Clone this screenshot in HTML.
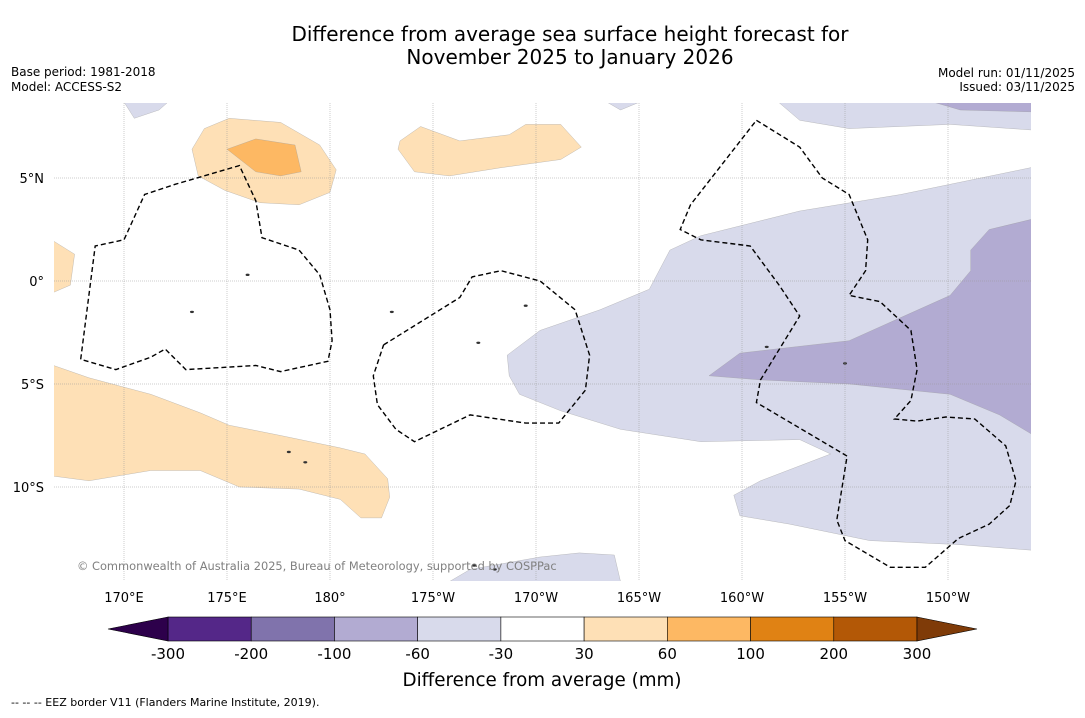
<!DOCTYPE html>
<html><head><meta charset="utf-8"><style>
body{margin:0;background:#fff;font-family:"Liberation Sans","DejaVu Sans",sans-serif;}
svg text{font-family:"DejaVu Sans","Liberation Sans",sans-serif;}
</style></head><body>
<svg id="s" width="1085" height="713" xmlns="http://www.w3.org/2000/svg">
<rect width="1085" height="713" fill="#fff"/>
<text x="570" y="41" font-size="20" text-anchor="middle">Difference from average sea surface height forecast for</text>
<text x="570" y="64" font-size="20" text-anchor="middle">November 2025 to January 2026</text>
<text x="11" y="76" font-size="12">Base period: 1981-2018</text>
<text x="11" y="91" font-size="12">Model: ACCESS-S2</text>
<text x="1075" y="77" font-size="12" text-anchor="end">Model run: 01/11/2025</text>
<text x="1075" y="91" font-size="12" text-anchor="end">Issued: 03/11/2025</text>
<defs><clipPath id="mc"><rect x="54" y="103" width="977" height="478"/></clipPath></defs>
<g id="map" clip-path="url(#mc)"></g>
<g id="grid"></g>
<g id="eez" clip-path="url(#mc)"></g>
<text x="77" y="570" font-size="11.4" fill="#808080">© Commonwealth of Australia 2025, Bureau of Meteorology, supported by COSPPac</text>
<g id="axes"></g>
<g id="cbar"></g>
<text x="542" y="686" font-size="18.3" text-anchor="middle">Difference from average (mm)</text>
<text x="11" y="706" font-size="11">-- -- -- EEZ border V11 (Flanders Marine Institute, 2019).</text>
</svg>
<script>
const cbBounds=[-300,-200,-100,-60,-30,30,60,100,200,300];
const cbColors=["#542788","#8073ac","#b2abd2","#d8daeb","#ffffff","#fee0b6","#fdb863","#e08214","#b35806"];
const cbExt=["#2d004b","#7f3b08"];
const lonTicks=[170,175,180,185,190,195,200,205,210];
const lonLabels=["170°E","175°E","180°","175°W","170°W","165°W","160°W","155°W","150°W"];
const latTicks=[5,0,-5,-10];
const latLabels=["5°N","0°","5°S","10°S"];
const regionLight=[[188.6,-3.6],[190.2,-2.4],[193.1,-1.4],[195.5,-0.4],[196.5,1.5],[198.0,2.2],[202.8,3.4],[207.7,4.2],[214.5,5.6],[214.5,-13.1],[210.6,-12.8],[206.2,-12.6],[202.3,-11.8],[199.9,-11.4],[199.6,-10.4],[200.9,-9.7],[204.3,-8.4],[202.8,-7.7],[198.0,-7.8],[194.1,-7.2],[191.2,-6.3],[189.2,-5.5],[188.7,-4.6]];
const regionDark=[[198.4,-4.6],[199.9,-3.5],[205.2,-2.9],[210.1,-0.7],[211.1,0.5],[211.1,1.5],[212.0,2.5],[214.5,3.1],[214.5,-7.7],[212.5,-6.5],[210.1,-5.5],[205.2,-5.0],[200.9,-4.8]];
const topLightR=[[201.4,9],[202.8,7.8],[205.2,7.4],[210.1,7.6],[214.5,7.3],[214.5,9]];
const topDarkR=[[208.2,9],[210.6,8.3],[214.5,8.2],[214.5,9]];
const topLightL=[[169.8,9],[170.5,7.9],[171.7,8.3],[172.5,9]];
const topLightM=[[192.9,9],[194.1,8.3],[195.8,9]];
const botLight=[[185.1,-15],[186.8,-14.0],[190.2,-13.4],[192.1,-13.2],[193.8,-13.3],[194.2,-15]];
const orTop=[[173.3,6.4],[173.9,7.4],[175.1,7.9],[177.6,7.7],[179.5,6.6],[180.3,5.4],[180.0,4.3],[178.5,3.7],[176.6,3.8],[174.9,4.4],[173.6,5.1]];
const orInner=[[175.0,6.4],[176.4,6.9],[178.3,6.6],[178.6,5.3],[177.6,5.1],[176.4,5.3]];
const orMid=[[183.4,6.8],[184.4,7.5],[186.3,6.8],[188.7,7.1],[189.5,7.6],[191.2,7.6],[192.2,6.5],[191.2,5.9],[188.3,5.5],[185.8,5.1],[184.1,5.3],[183.3,6.4]];
const orLeft=[[166,2.3],[167.6,1.3],[167.4,-0.2],[166,-0.8]];
const orBot=[[166,-3.9],[168.3,-4.7],[171.3,-5.5],[173.7,-6.4],[175.1,-7.0],[177.6,-7.5],[180.5,-8.1],[181.7,-8.4],[182.8,-9.6],[182.9,-10.5],[182.5,-11.5],[181.5,-11.5],[180.5,-10.6],[178.5,-10.1],[175.6,-10.0],[173.7,-9.2],[171.3,-9.2],[168.3,-9.7],[166,-9.4]];
const eezA=[[167.9,-3.8],[168.6,1.7],[170.0,2.0],[171.0,4.2],[172.5,4.7],[175.6,5.6],[176.4,3.9],[176.7,2.1],[178.5,1.5],[179.5,0.3],[180.0,-1.4],[180.1,-2.9],[179.9,-3.9],[177.6,-4.4],[176.4,-4.1],[173.0,-4.3],[172.0,-3.3],[171.3,-3.7],[169.6,-4.3],[167.9,-3.8]];
const eezB=[[182.6,-3.1],[186.3,-0.8],[186.9,0.2],[188.3,0.5],[190.2,0.0],[191.9,-1.4],[192.6,-3.6],[192.4,-5.3],[191.1,-6.9],[189.5,-6.9],[186.8,-6.5],[184.1,-7.8],[183.2,-7.2],[182.3,-6.0],[182.1,-4.6],[182.6,-3.1]];
const eezC=[[200.7,7.8],[202.8,6.5],[203.9,5.0],[205.2,4.2],[206.1,2.0],[206.0,0.5],[205.2,-0.7],[206.7,-1.0],[208.2,-2.4],[208.5,-4.3],[208.2,-5.8],[207.4,-6.7],[208.5,-6.8],[209.9,-6.6],[211.3,-6.7],[212.8,-8.0],[213.3,-9.7],[213.0,-10.9],[212.0,-11.8],[210.5,-12.5],[208.9,-13.9],[207.2,-13.9],[205.0,-12.6],[204.6,-11.6],[205.1,-8.5],[200.7,-5.9],[200.9,-4.8],[202.8,-1.7],[201.8,-0.2],[200.4,1.7],[198.0,2.0],[197.0,2.5],[197.5,3.7],[200.7,7.8]];
const islands=[[178.0,-8.3],[178.8,-8.8],[187.2,-3.0],[189.5,-1.2],[176.0,0.3],[183.0,-1.5],[205.0,-4.0],[201.2,-3.2],[173.3,-1.5],[187.0,-13.8],[188.0,-14.0],[166.3,-11.6]];

const NS="http://www.w3.org/2000/svg";
const X=l=>124+(l-170)*20.6, Y=t=>281-t*20.6;
function mk(tag,attrs,parent){const e=document.createElementNS(NS,tag);for(const k in attrs)e.setAttribute(k,attrs[k]);parent.appendChild(e);return e;}
const pts=a=>a.map(p=>X(p[0]).toFixed(1)+","+Y(p[1]).toFixed(1)).join(" ");
const map=document.getElementById('map');
function poly(a,fill,name){const e=mk('polygon',{points:pts(a),fill:fill,stroke:"#999",'stroke-width':0.3},map);

}
poly(regionLight,cbColors[3],'region-minus60-minus30');
poly(regionDark,cbColors[2],'region-minus100-minus60');
poly(topLightR,cbColors[3],'region-top-right-light');
poly(topDarkR,cbColors[2],'region-top-right-dark');
poly(topLightL,cbColors[3],'region-top-left-light');
poly(topLightM,cbColors[3],'region-top-middle-light');
poly(botLight,cbColors[3],'region-bottom-light');
poly(orTop,cbColors[5],'region-30-60-north');
poly(orInner,cbColors[6],'region-60-100-north');
poly(orMid,cbColors[5],'region-30-60-middle');
poly(orLeft,cbColors[5],'region-30-60-left');
poly(orBot,cbColors[5],'region-30-60-south');
islands.forEach(p=>{const e=mk('ellipse',{cx:X(p[0]),cy:Y(p[1]),rx:2,ry:1.2,fill:"#333"},map);

});
const grid=document.getElementById('grid'),axes=document.getElementById('axes');
lonTicks.forEach((l,i)=>{const g=mk('line',{x1:X(l),x2:X(l),y1:103,y2:581,stroke:"#999",'stroke-width':0.5,'stroke-dasharray':"1,1"},grid);


const t=mk('text',{x:X(l),y:602,'font-size':13,'text-anchor':'middle'},axes);t.textContent=lonLabels[i];

});
latTicks.forEach((l,i)=>{const g=mk('line',{x1:54,x2:1031,y1:Y(l),y2:Y(l),stroke:"#999",'stroke-width':0.5,'stroke-dasharray':"1,1"},grid);


const t=mk('text',{x:44,y:Y(l)+5,'font-size':13,'text-anchor':'end'},axes);t.textContent=latLabels[i];

});
const eez=document.getElementById('eez');
[eezA,eezB,eezC].forEach(a=>{const e=mk('polyline',{points:pts(a),fill:"none",stroke:"#000",'stroke-width':1.4,'stroke-dasharray':"5,3"},eez);

});
const cb=document.getElementById('cbar');const x0=168,x1=917,cy0=617,ch=24,n=cbColors.length,w=(x1-x0)/n;
cbColors.forEach((c,i)=>{const r=mk('rect',{x:x0+i*w,y:cy0,width:w,height:ch,fill:c,stroke:"#000",'stroke-width':0.6},cb);

});
const tl=mk('polygon',{points:`${x0},${cy0} ${x0-60},${cy0+ch/2} ${x0},${cy0+ch}`,fill:cbExt[0],stroke:"#000",'stroke-width':0.6},cb);


const tr=mk('polygon',{points:`${x1},${cy0} ${x1+60},${cy0+ch/2} ${x1},${cy0+ch}`,fill:cbExt[1],stroke:"#000",'stroke-width':0.6},cb);


cbBounds.forEach((b,i)=>{const t=mk('text',{x:x0+i*w,y:659,'font-size':15,'text-anchor':'middle'},cb);t.textContent=b;

});
</script>
</body></html>
